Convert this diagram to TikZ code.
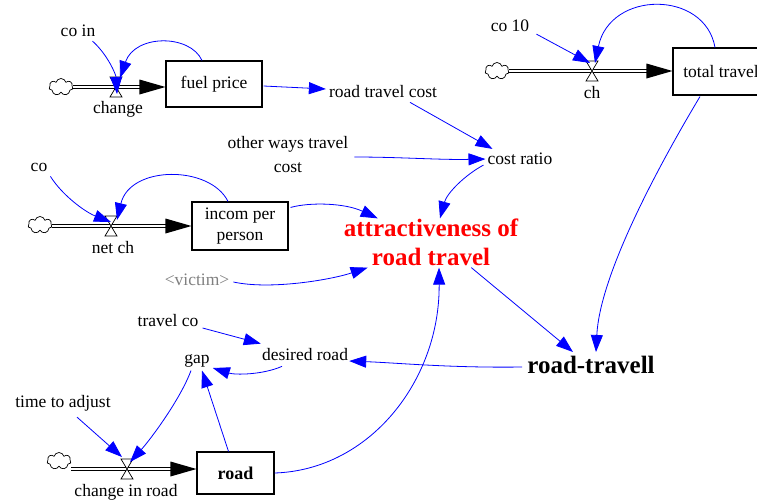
\documentclass[tikz,border=0pt]{standalone}
\usepackage{fontspec}
\setmainfont{Liberation Serif}
\usetikzlibrary{arrows.meta,shapes.symbols}
\newcommand\valveat[1]{\draw[fill=white,line width=0.7pt] (#1) ++(-6,-10) -- ++(12,0) -- ++(-12,20) -- ++(12,0) -- cycle;}
\newcommand\flowtip[1]{\fill (#1) -- ++(-26,-7.5) -- ++(0,15) -- cycle;}
\begin{document}
\begin{tikzpicture}[x=1pt,y=-1pt,
 txt/.style={font=\fontsize{17.5}{21}\selectfont, inner sep=0pt, align=center},
 stock/.style={draw, line width=1.1pt, font=\fontsize{17.5}{21}\selectfont, inner sep=0pt, align=center},
 link/.style={blue, line width=0.8pt, -{Triangle[length=17pt,width=12pt]}},
 pipe/.style={draw=black, double=white, line width=1pt, double distance=2.5pt},
 src/.style={cloud, cloud puffs=7, aspect=1.4, draw, line width=0.7pt, minimum width=24pt, minimum height=17pt, inner sep=0pt},
 big/.style={font=\fontsize{25}{29}\bfseries\selectfont, inner sep=0pt, align=center}
 ]
\useasboundingbox (0,0) rectangle (757,501);

% ---------- nodes ----------
\node[txt] (coin) at (78,31) {co in};
\node[src] (c1) at (61,87) {};
\coordinate (v1) at (116,87);
\node[txt] (chg) at (118,109) {change};
\node[stock, minimum width=96pt, minimum height=46pt] (fuel) at (214,84) {fuel price};

\node[txt] (co10) at (510,26) {co 10};
\node[src] (c4) at (497,71) {};
\coordinate (v4) at (592,71);
\node[txt] (chl) at (592,93) {ch};
\node[stock, minimum width=96pt, minimum height=47pt] (total) at (721,71.5) {total travel};

\node[txt] (co) at (39,167) {co};
\node[src] (c2) at (40,225) {};
\coordinate (v2) at (111,226);
\node[txt] (netch) at (113,248) {net ch};
\node[stock, minimum width=96pt, minimum height=48pt] (incom) at (240,226) {incom per\\person};

\node[txt] (rtc) at (383,92) {road travel cost};
\node[txt, font=\fontsize{17.5}{24}\selectfont] (other) at (288,155) {other ways travel\\cost};
\node[txt] (cr) at (520,159) {cost ratio};
\node[big, text=red] (attr) at (431,242) {attractiveness of\\road travel};
\node[txt, text=black!50] (victim) at (197,280) {<victim>};
\node[big] (rt) at (591,365) {road-travell};

\node[txt] (travelco) at (168,321) {travel co};
\node[txt] (desired) at (305,355) {desired road};
\node[txt] (gap) at (197,361) {gap};
\node[txt] (time) at (63,403) {time to adjust};
\node[src] (c3) at (59,461) {};
\coordinate (v3) at (127,469);
\node[txt] (chr) at (126,492) {change in road};
\node[stock, minimum width=77pt, minimum height=42pt, font=\fontsize{18}{21}\bfseries\selectfont] (road) at (235.5,473) {road};

% ---------- pipes ----------
\coordinate (t1) at (fuel.west |- v1);
\draw[pipe] (c1.east |- v1) -- ([shift={(-24,0)}]t1);
\flowtip{t1}
\coordinate (t4) at (total.west |- v4);
\draw[pipe] (c4.east |- v4) -- ([shift={(-24,0)}]t4);
\flowtip{t4}
\coordinate (t2) at (incom.west |- v2);
\draw[pipe] (c2.east |- v2) -- ([shift={(-24,0)}]t2);
\flowtip{t2}
\coordinate (t3) at (road.west |- v3);
\draw[pipe] (c3.east |- v3) -- ([shift={(-24,0)}]t3);
\flowtip{t3}
\valveat{v1}
\valveat{v2}
\valveat{v3}
\valveat{v4}

% ---------- links ----------
\draw[link] ([shift={(-3,4)}]coin.south east) .. controls (108,55) and (116,75) .. ([shift={(1,7)}]v1);
\draw[link] ([shift={(-12,0)}]fuel.north) .. controls (190,34) and (135,34) .. ([shift={(4,-9)}]v1);
\draw[link] ([shift={(1,2)}]fuel.east) -- ([shift={(-3,-3)}]rtc.west);
\draw[link] ([shift={(27,4)}]rtc.south) -- ([shift={(5,-4)}]cr.north west);
\draw[link] ([shift={(6,2)}]other.east) .. controls (400,157) and (440,160) .. ([shift={(-2,0)}]cr.west);
\draw[link] ([shift={(-4,0)}]cr.south west) .. controls (465,175) and (447,193) .. ([shift={(9,0)}]attr.north);
\draw[link] ([shift={(2,6)}]incom.north east) .. controls (310,202) and (345,203) .. ([shift={(34,0)}]attr.north west);
\draw[link] ([shift={(4,2)}]victim.east) .. controls (270,290) and (330,280) .. ([shift={(24,2)}]attr.south west);
\draw[link] ([shift={(-47,2)}]attr.south east) -- ([shift={(-18,-4)}]rt.north);
\draw[link] ([shift={(-21,1)}]total.south) .. controls (668,150) and (600,270) .. ([shift={(5,-4)}]rt.north);
\draw[link] ([shift={(-6,0)}]total.north) .. controls (705,-10) and (610,-10) .. ([shift={(3,-8)}]v4);
\draw[link] ([shift={(7,2)}]co10.south east) -- ([shift={(-2,-8)}]v4);
\draw[link] ([shift={(3,5)}]co.south east) .. controls (62,195) and (85,212) .. ([shift={(0,-4)}]v2);
\draw[link] ([shift={(-12,0)}]incom.north) .. controls (210,165) and (130,165) .. ([shift={(6,-6)}]v2);
\draw[link] ([shift={(-5,2)}]rt.west) .. controls (450,368) and (400,363) .. ([shift={(1,6)}]desired.east);
\draw[link] ([shift={(4,7)}]travelco.east) -- ([shift={(-1,-5)}]desired.north west);
\draw[link] ([shift={(-23,5)}]desired.south) .. controls (262,375) and (235,375) .. ([shift={(3,7)}]gap.east);
\draw[link] ([shift={(-6,3)}]gap.south) .. controls (180,400) and (150,440) .. ([shift={(3,-7)}]v3);
\draw[link] ([shift={(14,6)}]time.south) -- ([shift={(-5,-12)}]v3);
\draw[link] ([shift={(-7,0)}]road.north) -- ([shift={(5,3)}]gap.south);
\draw[link] (road.east) .. controls (370,470) and (440,380) .. ([shift={(8,2)}]attr.south);
\end{tikzpicture}
\end{document}
